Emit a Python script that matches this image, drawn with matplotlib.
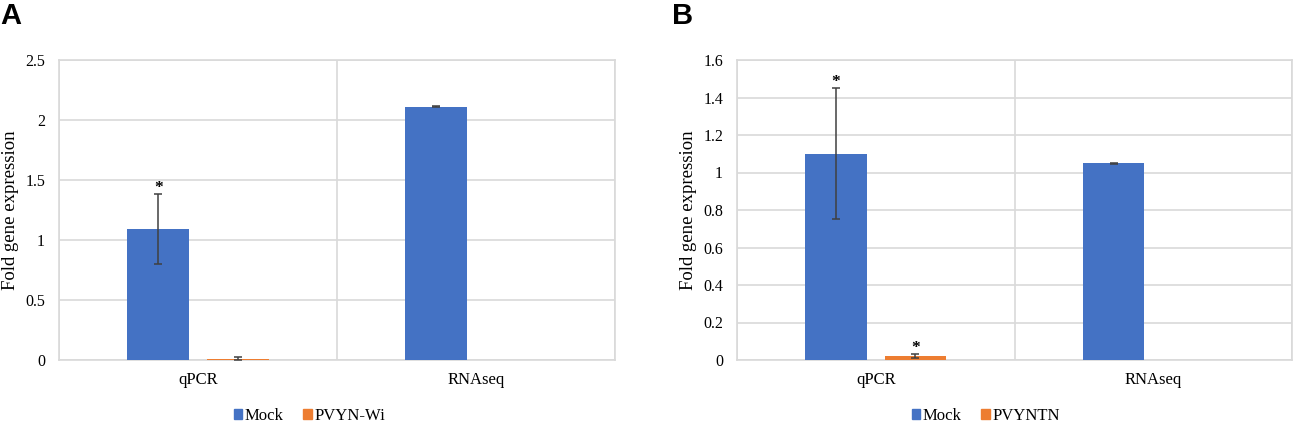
#!/usr/bin/env python3
# Fold gene expression, qPCR vs RNAseq, panels A and B
import matplotlib
matplotlib.use("Agg")
import matplotlib.pyplot as plt
from matplotlib.patches import Patch

categories = ["qPCR", "RNAseq"]

# panel A: Mock vs PVYN-Wi
a_series = ["Mock", "PVYN-Wi"]
a_mock = [1.09, 2.11]
a_mock_err = [0.29, 0.003]
a_virus = [0.012, None]
a_virus_err = [0.01, None]
a_yticks = [0, 0.5, 1, 1.5, 2, 2.5]
a_ytick_labels = ["0", "0.5", "1", "1.5", "2", "2.5"]
a_stars = [(0, "mock"), ]

# panel B: Mock vs PVYNTN
b_series = ["Mock", "PVYNTN"]
b_mock = [1.10, 1.05]
b_mock_err = [0.35, 0.003]
b_virus = [0.02, None]
b_virus_err = [0.01, None]
b_yticks = [0, 0.2, 0.4, 0.6, 0.8, 1.0, 1.2, 1.4, 1.6]
b_ytick_labels = ["0", "0.2", "0.4", "0.6", "0.8", "1", "1.2", "1.4", "1.6"]
b_stars = [(0, "mock"), (0, "virus")]

BLUE = "#4472C4"
ORANGE = "#ED7D31"
GRID = "#d9d9d9"
ERR = "#404040"
SERIF = "Liberation Serif"

plt.rcParams.update({"font.family": SERIF, "font.size": 12})

fig = plt.figure(figsize=(12.99, 4.26), dpi=100)


def panel(rect, names, mock, mock_err, virus, virus_err, yticks, ylabels, stars,
          letter, letter_x, legend_x):
    ax = fig.add_axes(rect)
    x = list(range(len(categories)))
    off, w = 0.143, 0.222
    ax.bar([i - off for i in x], mock, width=w, color=BLUE, zorder=3)
    ax.errorbar([i - off for i in x], mock, yerr=mock_err, fmt="none",
                ecolor=ERR, elinewidth=1.1, capsize=3, capthick=1.1, zorder=4)
    vx = [i + off for i, v in zip(x, virus) if v is not None]
    vy = [v for v in virus if v is not None]
    ve = [e for e in virus_err if e is not None]
    ax.bar(vx, vy, width=w, color=ORANGE, zorder=3)
    ax.errorbar(vx, vy, yerr=ve, fmt="none", ecolor=ERR, elinewidth=1.1,
                capsize=3, capthick=1.1, zorder=4)

    # significance stars above the error caps
    for idx, which in stars:
        if which == "mock":
            px, top = idx - off, mock[idx] + mock_err[idx]
        else:
            px, top = idx + off, virus[idx] + virus_err[idx]
        ax.annotate("*", (px, top), xytext=(0, 1.5), textcoords="offset points",
                    ha="center", va="baseline", fontsize=12.5, fontweight="bold",
                    color="black", zorder=5)

    ax.set_xlim(-0.5, len(categories) - 0.5)
    ax.set_ylim(yticks[0], yticks[-1])
    ax.set_xticks(x)
    ax.set_xticklabels(categories, fontsize=12)
    ax.set_xticks([-0.5, 0.5, 1.5], minor=True)
    ax.set_yticks(yticks)
    ax.set_yticklabels(ylabels, fontsize=11.5)
    ax.tick_params(which="both", length=0)
    ax.tick_params(axis="y", pad=10)
    ax.tick_params(axis="x", pad=9)
    ax.grid(axis="y", which="major", color=GRID, linewidth=1.2, zorder=0)
    ax.grid(axis="x", which="minor", color=GRID, linewidth=1.2, zorder=0)
    ax.grid(axis="x", which="major", visible=False)
    for s in ax.spines.values():
        s.set_color(GRID)
        s.set_linewidth(1.2)
    ax.set_ylabel("Fold gene expression", fontsize=13.5, va="center")
    ax.yaxis.set_label_coords(-0.088, 0.5)

    handles = [Patch(color=BLUE, label=names[0]), Patch(color=ORANGE, label=names[1])]
    fig.legend(handles=handles, loc="center", bbox_to_anchor=(legend_x, 0.0235),
               ncol=2, frameon=False, fontsize=12, handlelength=0.5,
               handleheight=0.5, handletextpad=0.15, columnspacing=1.2)

    fig.text(letter_x, 0.995, letter, fontsize=21, fontweight="bold",
             family="Liberation Sans", ha="left", va="top")
    return ax


panel([59 / 1299, 66 / 426, 556 / 1299, 300 / 426], a_series, a_mock, a_mock_err,
      a_virus, a_virus_err, a_yticks, a_ytick_labels, a_stars, "A", 0.0, 0.238)
panel([737 / 1299, 66 / 426, 555 / 1299, 300 / 426], b_series, b_mock, b_mock_err,
      b_virus, b_virus_err, b_yticks, b_ytick_labels, b_stars, "B", 672 / 1299, 0.7587)

fig.savefig("out.png", dpi=100)
